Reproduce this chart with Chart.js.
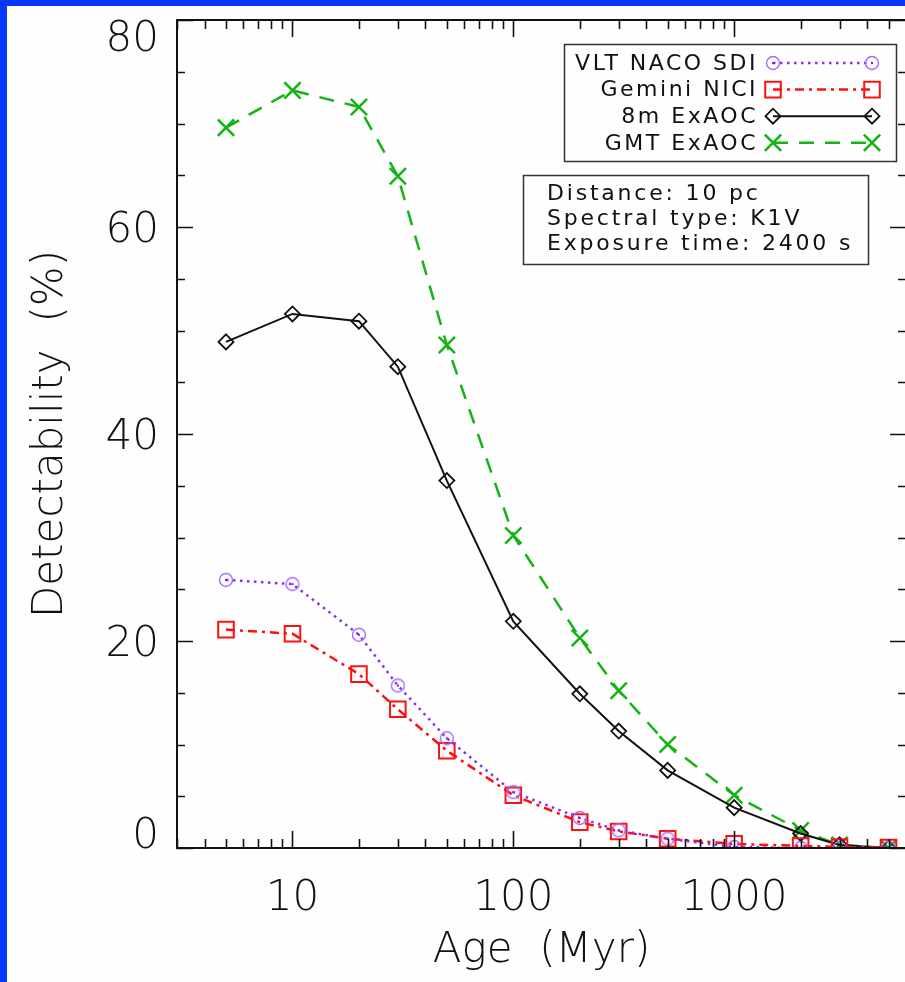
<!DOCTYPE html>
<html>
<head>
<meta charset="utf-8">
<script src="https://cdn.jsdelivr.net/npm/chart.js@4.4.1/dist/chart.umd.min.js"></script>
<style>
  html, body { margin: 0; padding: 0; overflow: hidden; background: #0538fb; }
  #panel { position: absolute; left: 7px; top: 6px; width: 920px; height: 976px; background: #fdfefd; }
  #chart { position: absolute; left: 0; top: 0; }
</style>
</head>
<body>
<div id="panel"></div>
<canvas id="chart" width="920" height="982"></canvas>
<script>
// Ages (Myr) and detectability (%) per instrument
const ages = [5, 10, 20, 30, 50, 100, 200, 300, 500, 1000, 2000, 3000, 5000];
const vltNaco = [25.9, 25.5, 20.6, 15.7, 10.6, 5.4, 2.9, 1.7, 0.9, 0.1, 0.0, 0.0, 0.0];
const geminiNici = [21.1, 20.7, 16.8, 13.4, 9.4, 5.1, 2.5, 1.6, 0.9, 0.4, 0.2, 0.1, 0.05];
const exaoc8m = [48.9, 51.6, 50.9, 46.5, 35.5, 21.9, 14.9, 11.3, 7.5, 3.9, 1.4, 0.3, 0.0];
const gmtExaoc = [69.6, 73.2, 71.6, 64.9, 48.6, 30.2, 20.3, 15.2, 10.0, 5.1, 1.7, 0.3, 0.0];

const seriesNames = ['VLT NACO SDI', 'Gemini NICI', '8m ExAOC', 'GMT ExAOC'];
const xLabelTicks = [10, 100, 1000];
const yLabelTicks = [0, 20, 40, 60, 80];
const infoLines = ['Distance: 10 pc', 'Spectral type: K1V', 'Exposure time: 2400 s'];

const FONT = "'DejaVu Sans', sans-serif";
const INK = '#111';

// small open circle with a dot in the middle
function ringDot() {
  const c = document.createElement('canvas');
  c.width = c.height = 18;
  const g = c.getContext('2d');
  g.strokeStyle = '#a46cff';
  g.lineWidth = 1.4;
  g.beginPath(); g.arc(9, 9, 6.5, 0, Math.PI * 2); g.stroke();
  g.fillStyle = '#7a1cff';
  g.fillRect(8, 8, 2, 2);
  return c;
}

const toPoints = vals => ages.map((a, i) => ({ x: a, y: vals[i] }));

const datasets = [
  {
    label: seriesNames[0], data: toPoints(vltNaco),
    borderColor: '#8a2cff', borderWidth: 2.5, borderDash: [2.5, 4.5],
    pointStyle: ringDot(), pointRadius: 8,
  },
  {
    label: seriesNames[1], data: toPoints(geminiNici),
    borderColor: '#ff1010', borderWidth: 2.5, borderDash: [9, 5, 3, 5],
    pointStyle: 'rect', pointRadius: 11, pointBorderColor: '#ff1010', pointBorderWidth: 2,
  },
  {
    label: seriesNames[2], data: toPoints(exaoc8m),
    borderColor: INK, borderWidth: 2,
    pointStyle: 'rectRot', pointRadius: 7.5, pointBorderColor: INK, pointBorderWidth: 1.8,
  },
  {
    label: seriesNames[3], data: toPoints(gmtExaoc),
    borderColor: '#14b414', borderWidth: 2.5, borderDash: [15, 11],
    pointStyle: 'crossRot', pointRadius: 11.5, pointBorderColor: '#14b414', pointBorderWidth: 2.5,
  }
];
datasets.forEach(d => {
  d.backgroundColor = 'rgba(0,0,0,0)';
  d.pointBackgroundColor = 'rgba(0,0,0,0)';
  d.fill = false;
  d.tension = 0;
});

// marker drawing for the legend box
function drawMarker(ctx, ds, x, y) {
  const st = ds.pointStyle;
  const r = ds.pointRadius;
  ctx.save();
  ctx.setLineDash([]);
  if (typeof st !== 'string') {
    ctx.drawImage(st, x - st.width / 2, y - st.height / 2);
  } else {
    ctx.strokeStyle = ds.pointBorderColor;
    ctx.lineWidth = ds.pointBorderWidth;
    ctx.beginPath();
    if (st === 'rect') {
      const s = r * Math.SQRT1_2;
      ctx.rect(x - s, y - s, 2 * s, 2 * s);
    } else if (st === 'rectRot') {
      ctx.moveTo(x - r, y); ctx.lineTo(x, y - r); ctx.lineTo(x + r, y); ctx.lineTo(x, y + r); ctx.closePath();
    } else if (st === 'crossRot') {
      const o = r * Math.SQRT1_2;
      ctx.moveTo(x - o, y - o); ctx.lineTo(x + o, y + o);
      ctx.moveTo(x - o, y + o); ctx.lineTo(x + o, y - o);
    }
    ctx.stroke();
  }
  ctx.restore();
}

// frame, inward ticks, y labels, legend and info box
const decorations = {
  id: 'decorations',
  afterDraw(chart) {
    const { ctx, chartArea: a, scales } = chart;
    const xs = scales.x, ys = scales.y;
    ctx.save();
    ctx.strokeStyle = INK;
    ctx.lineWidth = 2;
    ctx.setLineDash([]);
    ctx.strokeRect(a.left, a.top, a.right - a.left, a.bottom - a.top);

    ctx.beginPath();
    // y ticks every 5, major every 20
    for (let v = 0; v <= 80; v += 5) {
      const py = Math.round(ys.getPixelForValue(v)) + 0.5;
      const len = v % 20 === 0 ? 16 : 8;
      ctx.moveTo(a.left, py); ctx.lineTo(a.left + len, py);
      ctx.moveTo(a.right, py); ctx.lineTo(a.right - len, py);
    }
    // x log ticks
    for (let dec = 1; dec <= 1000; dec *= 10) {
      for (let k = 1; k <= 9; k++) {
        const v = k * dec;
        if (v < 3 || v > 6000) continue;
        const px = Math.round(xs.getPixelForValue(v)) + 0.5;
        const len = k === 1 ? 17 : 9;
        ctx.moveTo(px, a.bottom); ctx.lineTo(px, a.bottom - len);
        ctx.moveTo(px, a.top); ctx.lineTo(px, a.top + len);
      }
    }
    ctx.lineWidth = 1.6;
    ctx.stroke();

    // y tick labels, kept inside the axis span at both ends
    ctx.font = '200 42px ' + FONT;
    ctx.fillStyle = INK;
    ctx.textAlign = 'right';
    ctx.textBaseline = 'alphabetic';
    const capH = 30.6;
    yLabelTicks.forEach(v => {
      const py = ys.getPixelForValue(v);
      const base = Math.min(Math.max(py + capH / 2, a.top + capH), a.bottom);
      ctx.fillText(String(v), a.left - 18, base);
    });

    // legend box
    ctx.fillStyle = '#fdfefd';
    ctx.fillRect(564, 44, 332, 117);
    ctx.lineWidth = 1.5;
    ctx.strokeStyle = '#333';
    ctx.strokeRect(564.5, 44.5, 332, 117);
    ctx.font = '22px ' + FONT;
    ctx.letterSpacing = '2.5px';
    ctx.textAlign = 'right';
    ctx.textBaseline = 'middle';
    chart.data.datasets.forEach((ds, i) => {
      const y = 63 + i * 26.6;
      ctx.fillStyle = INK;
      ctx.fillText(ds.label, 758, y + 1);
      ctx.save();
      ctx.strokeStyle = ds.borderColor;
      ctx.lineWidth = ds.borderWidth;
      ctx.setLineDash(ds.borderDash || []);
      ctx.beginPath(); ctx.moveTo(773, y); ctx.lineTo(872, y); ctx.stroke();
      ctx.restore();
      drawMarker(ctx, ds, 773, y);
      drawMarker(ctx, ds, 872, y);
    });

    // info box
    ctx.fillStyle = '#fdfefd';
    ctx.fillRect(523, 175, 345, 89);
    ctx.strokeStyle = '#333';
    ctx.strokeRect(523.5, 175.5, 345, 89);
    ctx.fillStyle = INK;
    ctx.textAlign = 'left';
    ctx.letterSpacing = '2.8px';
    infoLines.forEach((t, i) => ctx.fillText(t, 547, 194 + i * 25));
    ctx.letterSpacing = '0px';
    ctx.restore();
  }
};

new Chart(document.getElementById('chart'), {
  type: 'line',
  data: { datasets },
  options: {
    responsive: false,
    animation: false,
    devicePixelRatio: 1,
    layout: { padding: { top: 20, right: 8, left: 0, bottom: 0 } },
    plugins: { legend: { display: false }, tooltip: { enabled: false } },
    scales: {
      x: {
        type: 'logarithmic',
        position: 'bottom',
        min: 3,
        max: 6000,
        grid: { display: false, drawTicks: false },
        border: { display: false },
        afterBuildTicks: s => { s.ticks = xLabelTicks.map(v => ({ value: v })); },
        afterFit: s => { s.height = 134; s.paddingLeft = 0; s.paddingRight = 0; },
        ticks: {
          autoSkip: false, maxRotation: 0, padding: 26, color: INK,
          font: { family: FONT, size: 42, weight: 200 },
          callback: v => String(v)
        },
        title: {
          display: true, text: 'Age  (Myr)', color: INK,
          font: { family: FONT, size: 42, weight: 200 },
          padding: { top: 0, bottom: 6 }
        }
      },
      y: {
        min: 0,
        max: 80,
        grid: { display: false, drawTicks: false },
        border: { display: false },
        afterBuildTicks: s => { s.ticks = yLabelTicks.map(v => ({ value: v })); },
        afterFit: s => { s.width = 177; s.paddingTop = 0; s.paddingBottom = 0; },
        ticks: { display: false },
        title: {
          display: true, text: 'Detectability  (%)', color: INK,
          font: { family: FONT, size: 42, weight: 200 },
          padding: { top: 26, bottom: 0 }
        }
      }
    }
  },
  plugins: [decorations]
});
</script>
</body>
</html>
